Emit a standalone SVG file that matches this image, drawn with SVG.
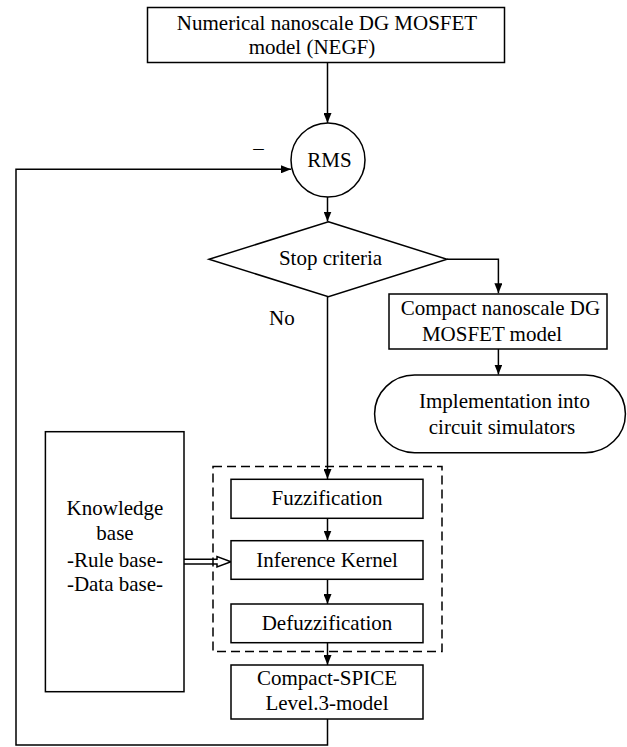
<svg xmlns="http://www.w3.org/2000/svg" width="627" height="747" viewBox="0 0 627 747">
<defs>
<style>
.s{fill:#fff;stroke:#000;stroke-width:1.5}
.l{fill:none;stroke:#000;stroke-width:1.5}
text{font-family:"Liberation Serif","Times New Roman",serif;font-size:21px;fill:#000;text-anchor:middle}
</style>
<marker id="ah" markerUnits="userSpaceOnUse" markerWidth="10" markerHeight="8" refX="10" refY="4" orient="auto">
<path d="M0,0 L10,4 L0,8 z" fill="#000"/>
</marker>
</defs>
<rect width="627" height="747" fill="#fff"/>
<g id="connectors">
<path class="l" d="M327.5,63 V123" marker-end="url(#ah)"/>
<path class="l" d="M327.5,197 V221.5" marker-end="url(#ah)"/>
<path class="l" d="M447,259.3 H498.4 V293.3" marker-end="url(#ah)"/>
<path class="l" d="M498.4,349 V374.5" marker-end="url(#ah)"/>
<path class="l" d="M327.5,296.7 V479" marker-end="url(#ah)"/>
<path class="l" d="M327.5,518.3 V540.5" marker-end="url(#ah)"/>
<path class="l" d="M327.5,579.3 V604" marker-end="url(#ah)"/>
<path class="l" d="M327.5,642.7 V665" marker-end="url(#ah)"/>
<path class="l" d="M327.5,719 V745 H16 V169.3 H291" marker-end="url(#ah)"/>
<path class="l" d="M184,559.3 H217 V556.5 L231,561.7 L217,567 V564 H184" stroke-width="1.3"/>
<text x="258.5" y="155">–</text>
<text x="269" y="325" style="text-anchor:start">No</text>
</g>
<g id="dashed-group">
<rect x="213" y="466.5" width="229" height="185" class="l" stroke-dasharray="9,5"/>
</g>
<g id="node-negf">
<rect class="s" x="147.5" y="7.5" width="357" height="55"/>
<text x="327" y="30">Numerical nanoscale DG MOSFET</text>
<text x="312" y="53.5">model (NEGF)</text>
</g>
<g id="node-rms">
<circle class="s" cx="328" cy="160" r="37"/>
<text x="329.5" y="166.7">RMS</text>
</g>
<g id="node-stop">
<polygon class="s" points="328.4,221.7 447,259.3 328.4,296.7 209,259.3"/>
<text x="330.5" y="265">Stop criteria</text>
</g>
<g id="node-compact">
<rect class="s" x="389" y="294" width="218" height="55"/>
<text x="500.5" y="315">Compact nanoscale DG</text>
<text x="492" y="341">MOSFET model</text>
</g>
<g id="node-impl">
<rect class="s" x="374.6" y="375" width="250.8" height="77.7" rx="40" ry="38.8"/>
<text x="504.5" y="408.3">Implementation into</text>
<text x="502" y="434.3">circuit simulators</text>
</g>
<g id="node-knowledge">
<rect class="s" x="45.4" y="431.7" width="138.6" height="260"/>
<text x="115" y="515">Knowledge</text>
<text x="115" y="540">base</text>
<text x="115" y="566.7">-Rule base-</text>
<text x="115" y="591">-Data base-</text>
</g>
<g id="node-fuzz">
<rect class="s" x="231" y="479.3" width="192" height="39"/>
<text x="327" y="505">Fuzzification</text>
</g>
<g id="node-inference">
<rect class="s" x="231" y="540.7" width="192" height="38.6"/>
<text x="327" y="566.7">Inference Kernel</text>
</g>
<g id="node-defuzz">
<rect class="s" x="231" y="604" width="192" height="38.7"/>
<text x="327" y="630">Defuzzification</text>
</g>
<g id="node-spice">
<rect class="s" x="231" y="665" width="192" height="54"/>
<text x="327" y="685">Compact-SPICE</text>
<text x="327" y="710">Level.3-model</text>
</g>
</svg>
